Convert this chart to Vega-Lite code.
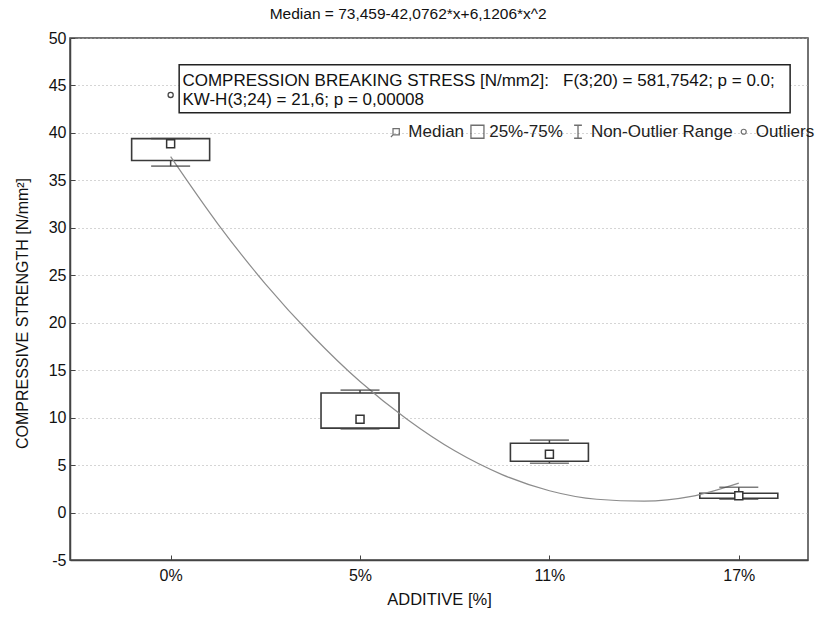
{
  "$schema": "https://vega.github.io/schema/vega-lite/v6.json",
  "autosize": "none",
  "width": 738,
  "height": 522,
  "padding": {"left": 70, "top": 38, "right": 22, "bottom": 64},
  "background": "white",
  "title": {
    "text": "Median = 73,459-42,0762*x+6,1206*x^2",
    "fontSize": 15.5,
    "fontWeight": "normal",
    "font": "Liberation Sans",
    "color": "#111",
    "frame": "bounds",
    "anchor": "middle",
    "dx": -6,
    "offset": 8
  },
  "config": {
    "font": "Liberation Sans",
    "view": {"stroke": "#444", "strokeWidth": 1.5},
    "axis": {
      "labelFont": "Liberation Sans",
      "titleFont": "Liberation Sans",
      "labelColor": "#111",
      "titleColor": "#111",
      "titleFontWeight": "normal",
      "domainColor": "#444",
      "domainWidth": 1.5,
      "tickColor": "#444"
    }
  },
  "data": {"values": [{}]},
  "datasets": {
    "boxes": [
      {"additive": "0%", "x": 1, "lo": 36.5, "q1": 37.1, "median": 38.85, "q3": 39.4, "hi": 39.4},
      {"additive": "5%", "x": 2, "lo": 8.8, "q1": 8.9, "median": 9.84, "q3": 12.6, "hi": 12.9},
      {"additive": "11%", "x": 3, "lo": 5.2, "q1": 5.4, "median": 6.15, "q3": 7.3, "hi": 7.63},
      {"additive": "17%", "x": 4, "lo": 1.4, "q1": 1.5, "median": 1.77, "q3": 2.03, "hi": 2.67}
    ],
    "outliers": [
      {"additive": "0%", "x": 1, "value": 44.0}
    ],
    "fit": [
      {"x": 1.0, "median_fit": 37.5},
      {"x": 1.25, "median_fit": 30.4},
      {"x": 1.5, "median_fit": 24.1},
      {"x": 1.75, "median_fit": 18.6},
      {"x": 2.0, "median_fit": 13.8},
      {"x": 2.25, "median_fit": 9.8},
      {"x": 2.5, "median_fit": 6.5},
      {"x": 2.75, "median_fit": 4.0},
      {"x": 3.0, "median_fit": 2.3},
      {"x": 3.25, "median_fit": 1.4},
      {"x": 3.5, "median_fit": 1.2},
      {"x": 3.75, "median_fit": 1.7},
      {"x": 4.0, "median_fit": 3.1}
    ]
  },
  "layer": [
    {
      "data": {"name": "boxes"},
      "mark": {"type": "rule", "color": "#444", "strokeWidth": 1.5},
      "encoding": {
        "x": {
          "field": "x",
          "type": "quantitative",
          "scale": {"domain": [0.495, 4.339], "nice": false, "zero": false},
          "axis": {
            "values": [1, 2, 3, 4],
            "labelExpr": "datum.value == 1 ? '0%' : datum.value == 2 ? '5%' : datum.value == 3 ? '11%' : '17%'",
            "title": "ADDITIVE [%]",
            "titleFontSize": 16.5,
            "labelFontSize": 16,
            "tickSize": -5,
            "labelPadding": 12,
            "titlePadding": 8,
            "grid": false
          }
        },
        "y": {
          "field": "lo",
          "type": "quantitative",
          "scale": {"domain": [-5, 50], "nice": false, "zero": false},
          "axis": {
            "values": [-5, 0, 5, 10, 15, 20, 25, 30, 35, 40, 45, 50],
            "labelExpr": "datum.value + ''",
            "title": "COMPRESSIVE STRENGTH [N/mm²]",
            "titleFontSize": 16,
            "titleY": 275,
            "labelFontSize": 16,
            "tickSize": -5,
            "labelPadding": 9,
            "titlePadding": 18,
            "grid": true,
            "gridColor": "#aaa",
            "gridDash": [1, 3],
            "gridWidth": 1
          }
        },
        "y2": {"field": "hi"}
      }
    },
    {
      "data": {"name": "boxes"},
      "mark": {"type": "bar", "width": 78, "fill": "white", "stroke": "#3a3a3a", "strokeWidth": 1.6},
      "encoding": {
        "x": {"field": "x", "type": "quantitative"},
        "y": {"field": "q1", "type": "quantitative"},
        "y2": {"field": "q3"}
      }
    },
    {
      "data": {"name": "fit"},
      "mark": {"type": "line", "color": "#8c8c8c", "strokeWidth": 1.2, "interpolate": "monotone"},
      "encoding": {
        "x": {"field": "x", "type": "quantitative"},
        "y": {"field": "median_fit", "type": "quantitative"}
      }
    },
    {
      "data": {"name": "boxes"},
      "mark": {"type": "tick", "orient": "horizontal", "size": 39, "thickness": 1.6, "color": "#444"},
      "encoding": {
        "x": {"field": "x", "type": "quantitative"},
        "y": {"field": "hi", "type": "quantitative"}
      }
    },
    {
      "data": {"name": "boxes"},
      "mark": {"type": "tick", "orient": "horizontal", "size": 39, "thickness": 1.6, "color": "#444"},
      "encoding": {
        "x": {"field": "x", "type": "quantitative"},
        "y": {"field": "lo", "type": "quantitative"}
      }
    },
    {
      "data": {"name": "boxes"},
      "mark": {"type": "point", "shape": "square", "size": 64, "filled": false, "fill": "white", "fillOpacity": 1, "stroke": "#333", "strokeWidth": 1.5, "opacity": 1},
      "encoding": {
        "x": {"field": "x", "type": "quantitative"},
        "y": {"field": "median", "type": "quantitative"}
      }
    },
    {
      "mark": {"type": "rect", "fill": "white", "stroke": "#222", "strokeWidth": 1.5},
      "encoding": {
        "x": {"datum": 1.045, "type": "quantitative"},
        "x2": {"datum": 4.271},
        "y": {"datum": 47.18, "type": "quantitative"},
        "y2": {"datum": 42.12}
      }
    },
    {
      "data": {"name": "outliers"},
      "mark": {"type": "point", "shape": "circle", "size": 26, "fill": "white", "fillOpacity": 1, "stroke": "#444", "strokeWidth": 1.3, "opacity": 1},
      "encoding": {
        "x": {"field": "x", "type": "quantitative"},
        "y": {"field": "value", "type": "quantitative"}
      }
    },
    {
      "mark": {"type": "text", "align": "left", "baseline": "middle", "fontSize": 17, "color": "#111", "text": "\u00a0COMPRESSION BREAKING STRESS [N/mm2]:\u00a0\u00a0 F(3;20) = 581,7542; p = 0.0;"},
      "encoding": {
        "x": {"datum": 1.062, "type": "quantitative"},
        "y": {"datum": 45.42, "type": "quantitative"}
      }
    },
    {
      "mark": {"type": "text", "align": "left", "baseline": "middle", "fontSize": 17, "color": "#111", "text": "KW-H(3;24) = 21,6; p = 0,00008"},
      "encoding": {
        "x": {"datum": 1.062, "type": "quantitative"},
        "y": {"datum": 43.49, "type": "quantitative"}
      }
    },
    {
      "mark": {"type": "point", "shape": "M-0.5,-0.6H0.7V0.6H-0.5Z M-0.5,0.6L-0.9,1", "size": 110, "filled": false, "stroke": "#333", "strokeWidth": 1.2},
      "encoding": {
        "x": {"datum": 2.188, "type": "quantitative"},
        "y": {"datum": 40.12, "type": "quantitative"}
      }
    },
    {
      "mark": {"type": "text", "align": "left", "baseline": "middle", "fontSize": 17, "color": "#222", "text": "Median"},
      "encoding": {
        "x": {"datum": 2.255, "type": "quantitative"},
        "y": {"datum": 40.12, "type": "quantitative"}
      }
    },
    {
      "mark": {"type": "point", "shape": "square", "size": 169, "filled": false, "stroke": "#333", "strokeWidth": 1.3},
      "encoding": {
        "x": {"datum": 2.62, "type": "quantitative"},
        "y": {"datum": 40.12, "type": "quantitative"}
      }
    },
    {
      "mark": {"type": "text", "align": "left", "baseline": "middle", "fontSize": 17, "color": "#222", "text": "25%-75%"},
      "encoding": {
        "x": {"datum": 2.682, "type": "quantitative"},
        "y": {"datum": 40.12, "type": "quantitative"}
      }
    },
    {
      "mark": {"type": "point", "shape": "M-0.6,-1H0.6M0,-1V1M-0.6,1H0.6", "size": 169, "filled": false, "stroke": "#333", "strokeWidth": 1.3},
      "encoding": {
        "x": {"datum": 3.151, "type": "quantitative"},
        "y": {"datum": 40.12, "type": "quantitative"}
      }
    },
    {
      "mark": {"type": "text", "align": "left", "baseline": "middle", "fontSize": 17, "color": "#222", "text": "Non-Outlier Range"},
      "encoding": {
        "x": {"datum": 3.219, "type": "quantitative"},
        "y": {"datum": 40.12, "type": "quantitative"}
      }
    },
    {
      "mark": {"type": "point", "shape": "circle", "size": 25, "filled": false, "stroke": "#333", "strokeWidth": 1.2},
      "encoding": {
        "x": {"datum": 4.026, "type": "quantitative"},
        "y": {"datum": 40.12, "type": "quantitative"}
      }
    },
    {
      "mark": {"type": "text", "align": "left", "baseline": "middle", "fontSize": 17, "color": "#222", "text": "Outliers"},
      "encoding": {
        "x": {"datum": 4.089, "type": "quantitative"},
        "y": {"datum": 40.12, "type": "quantitative"}
      }
    }
  ]
}
